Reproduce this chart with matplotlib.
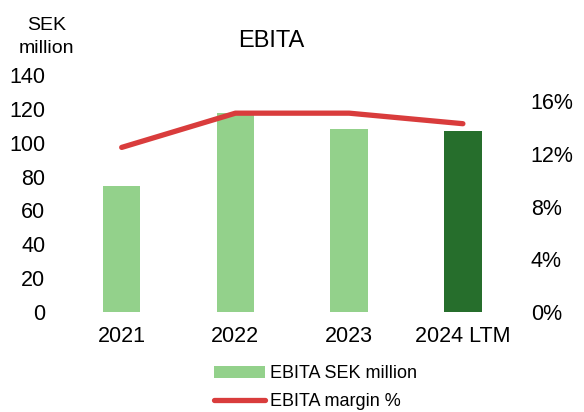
import matplotlib
matplotlib.use('Agg')
import matplotlib.pyplot as plt
from matplotlib.lines import Line2D
from matplotlib.patches import Patch
from matplotlib.ticker import FuncFormatter

plt.rcParams['font.family'] = ['Liberation Sans', 'DejaVu Sans']

# Data
years = ['2021', '2022', '2023', '2024 LTM']
ebita = [74.5, 117.7, 108.1, 107.0]          # SEK million
margin = [12.5, 15.1, 15.1, 14.3]            # %
bar_colors = ['#93D18B', '#93D18B', '#93D18B', '#266E2C']
line_color = '#D93C3C'

fig = plt.figure(figsize=(5.84, 4.12), dpi=100)
ax = fig.add_axes([0.111, 0.2427, 0.779, 0.5753])
ax2 = ax.twinx()

x = range(len(years))
ax.bar(x, ebita, width=0.33, color=bar_colors, zorder=2)
ax2.plot(x, margin, color=line_color, lw=3.8, solid_capstyle='round',
         solid_joinstyle='round', zorder=3)

ax.set_xlim(-0.5, len(years) - 0.5)
ax.set_ylim(0, 140)
ax.set_yticks(range(0, 141, 20))
ax2.set_ylim(0, 18)
ax2.set_yticks(range(0, 17, 4))
ax2.yaxis.set_major_formatter(FuncFormatter(lambda v, p: f"{int(v)}%"))

ax.set_xticks(list(x))
ax.set_xticklabels(years)

for a in (ax, ax2):
    for s in a.spines.values():
        s.set_visible(False)
    a.tick_params(length=0, labelsize=15.5)
ax.tick_params(axis='x', pad=10)
ax.tick_params(axis='y', pad=14)
ax2.tick_params(axis='y', pad=8)

ax.set_zorder(ax2.get_zorder() - 1)
ax.patch.set_visible(False)

fig.text(0.08, 0.958, "SEK\nmillion", ha='center', va='top', fontsize=14,
         linespacing=1.4)
fig.text(0.465, 0.9, "EBITA", ha='center', va='center', fontsize=17)

handles = [Patch(facecolor='#93D18B', edgecolor='none'),
           Line2D([0], [0], color=line_color, lw=3.8, solid_capstyle='round')]
fig.legend(handles, ['EBITA SEK million', 'EBITA margin %'],
           loc='upper left', bbox_to_anchor=(0.367, 0.113), frameon=False,
           fontsize=13, handlelength=2.8, handleheight=0.6, labelspacing=0.6,
           handletextpad=0.3, borderaxespad=0, borderpad=0)

fig.savefig("out.png", dpi=100)
